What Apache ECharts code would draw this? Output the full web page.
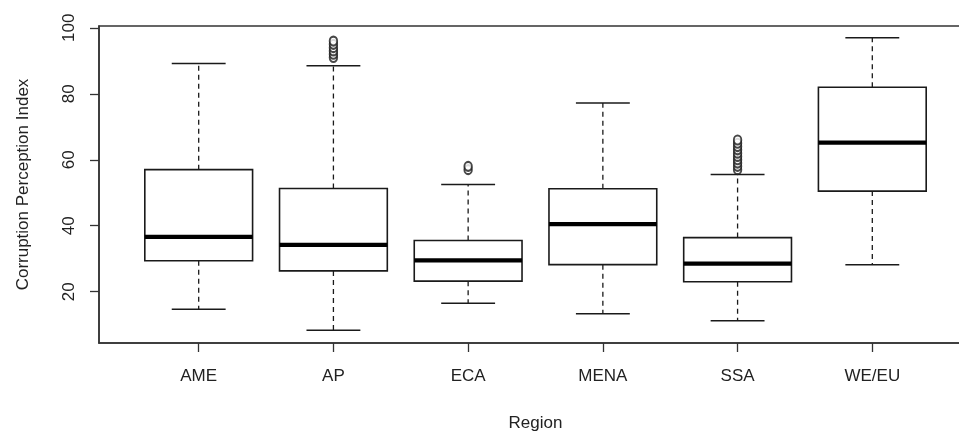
<!DOCTYPE html>
<html>
<head>
<meta charset="utf-8">
<script src="https://cdn.jsdelivr.net/npm/echarts@6/dist/echarts.min.js"></script>
<style>
html,body{margin:0;padding:0;background:#fff;}
#chart{width:959px;height:434px;}
</style>
</head>
<body>
<div id="chart"></div>
<script>
const categories = ['AME', 'AP', 'ECA', 'MENA', 'SSA', 'WE/EU'];
const whiskerLow = [14.7, 8.3, 16.5, 13.3, 11.2, 28.2];
const q1 = [29.4, 26.3, 23.2, 28.2, 23, 50.5];
const median = [36.6, 34.2, 29.5, 40.5, 28.5, 65.2];
const q3 = [57, 51.3, 35.5, 51.2, 36.4, 82];
const whiskerHigh = [89.2, 88.5, 52.5, 77.2, 55.5, 97];
const outliersAP = [91, 92, 93, 94, 95, 96];
const outliersECA = [57, 58];
const outliersSSA = [57, 58, 59, 60, 61, 62, 63, 64, 65, 66];
const yTicks = [20, 40, 60, 80, 100];

const xTicks = categories.map((c, i) => i + 1);
const boxData = categories.map((c, i) => [i + 1, whiskerLow[i], q1[i], median[i], q3[i], whiskerHigh[i]]);
const outlierData = []
  .concat(outliersAP.map(v => [2, v]))
  .concat(outliersECA.map(v => [3, v]))
  .concat(outliersSSA.map(v => [5, v]));

const chart = echarts.init(document.getElementById('chart'), null, {renderer: 'canvas'});
const INK = '#1a1a1a';

function renderBox(params, api) {
  const x = api.value(0);
  const lo = api.value(1), b1 = api.value(2), md = api.value(3), b3 = api.value(4), hi = api.value(5);
  const hw = 0.4, cw = 0.2;
  const tl = api.coord([x - hw, b3]);
  const br = api.coord([x + hw, b1]);
  const mL = api.coord([x - hw, md]);
  const mR = api.coord([x + hw, md]);
  const pHi = api.coord([x, hi]);
  const pLo = api.coord([x, lo]);
  const pB3 = api.coord([x, b3]);
  const pB1 = api.coord([x, b1]);
  const cHiL = api.coord([x - cw, hi]), cHiR = api.coord([x + cw, hi]);
  const cLoL = api.coord([x - cw, lo]), cLoR = api.coord([x + cw, lo]);
  const dash = {stroke: INK, lineWidth: 1.3, lineDash: [5, 4], fill: null};
  const solid = {stroke: INK, lineWidth: 1.5, fill: null};
  return {
    type: 'group',
    children: [
      {type: 'line', shape: {x1: pB3[0], y1: pB3[1], x2: pHi[0], y2: pHi[1]}, style: dash},
      {type: 'line', shape: {x1: pB1[0], y1: pB1[1], x2: pLo[0], y2: pLo[1]}, style: dash},
      {type: 'line', shape: {x1: cHiL[0], y1: cHiL[1], x2: cHiR[0], y2: cHiR[1]}, style: solid},
      {type: 'line', shape: {x1: cLoL[0], y1: cLoL[1], x2: cLoR[0], y2: cLoR[1]}, style: solid},
      {type: 'rect', shape: {x: tl[0], y: tl[1], width: br[0] - tl[0], height: br[1] - tl[1]},
        style: {stroke: INK, lineWidth: 1.6, fill: '#fff'}},
      {type: 'line', shape: {x1: mL[0], y1: mL[1], x2: mR[0], y2: mR[1]},
        style: {stroke: '#000', lineWidth: 4.2, fill: null}}
    ]
  };
}

const option = {
  animation: false,
  backgroundColor: '#fff',
  grid: {
    left: 99, right: -13, top: 26, bottom: 91,
    show: true, borderColor: '#333', borderWidth: 1.5, backgroundColor: 'transparent',
    outerBoundsMode: 'none'
  },
  xAxis: {
    type: 'value', min: 0.26, max: 6.74,
    name: 'Region', nameLocation: 'middle', nameGap: 72,
    nameTextStyle: {fontFamily: 'Liberation Sans', fontSize: 17, color: '#222'},
    axisLine: {show: true, lineStyle: {color: '#333', width: 1.5}},
    axisTick: {show: true, length: 9, customValues: xTicks, lineStyle: {color: '#333', width: 1.3}},
    axisLabel: {
      customValues: xTicks, margin: 25,
      fontFamily: 'Liberation Sans', fontSize: 17, color: '#222',
      formatter: v => categories[Math.round(v) - 1] || ''
    },
    splitLine: {show: false}
  },
  yAxis: {
    type: 'value', min: 4.44, max: 100.56,
    name: 'Corruption Perception Index', nameLocation: 'middle', nameGap: 67, nameRotate: 90,
    nameTextStyle: {fontFamily: 'Liberation Sans', fontSize: 17, color: '#222'},
    axisLine: {show: true, lineStyle: {color: '#333', width: 1.5}},
    axisTick: {show: true, length: 9, customValues: yTicks, lineStyle: {color: '#333', width: 1.3}},
    axisLabel: {
      customValues: yTicks, rotate: 90, margin: 21,
      fontFamily: 'Liberation Sans', fontSize: 17, color: '#222'
    },
    splitLine: {show: false}
  },
  series: [
    {
      type: 'custom',
      renderItem: renderBox,
      data: boxData,
      encode: {x: 0, y: [1, 2, 3, 4, 5]},
      z: 2
    },
    {
      type: 'scatter',
      data: outlierData,
      symbol: 'emptyCircle',
      symbolSize: [7.5, 9],
      itemStyle: {color: INK, borderColor: INK, borderWidth: 1.1},
      z: 3
    }
  ]
};
chart.setOption(option);
</script>
</body>
</html>
